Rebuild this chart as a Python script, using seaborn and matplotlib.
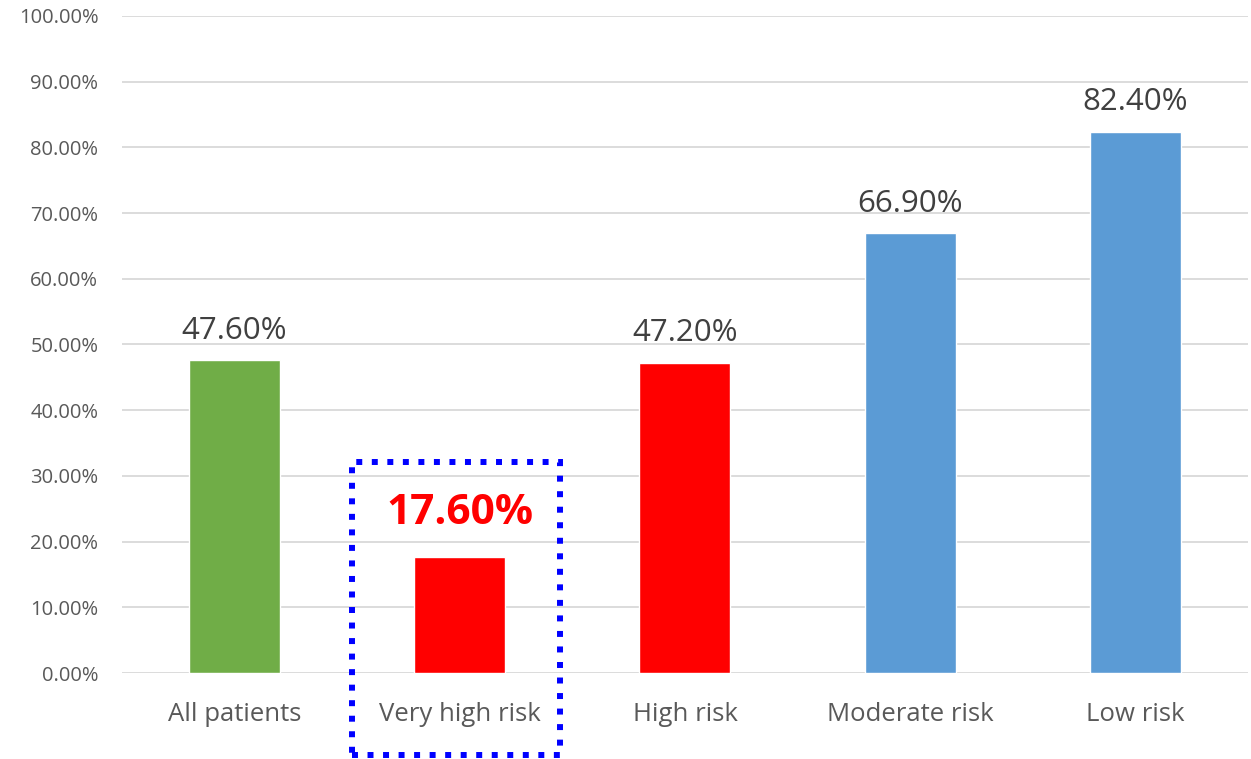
import pandas as pd
import matplotlib.pyplot as plt
import matplotlib.patches as mpatches
from matplotlib.ticker import FuncFormatter
import seaborn as sns

# Chart values
categories = ["All patients", "Very high risk", "High risk", "Moderate risk", "Low risk"]
values = [47.6, 17.6, 47.2, 66.9, 82.4]
bar_colors = ["#70AD47", "#FF0000", "#FF0000", "#5B9BD5", "#5B9BD5"]

df = pd.DataFrame({"Group": categories, "Rate": values})

sns.set_style("white")
plt.rcParams['font.family'] = ['Open Sans', 'DejaVu Sans']

fig = plt.figure(figsize=(12.51, 7.59), dpi=100)
ax = fig.add_axes([0.0975, 0.1133, 0.9001, 0.8657])

sns.barplot(data=df, x="Group", y="Rate", hue="Group", palette=bar_colors,
            width=0.404, saturation=1, legend=False, ax=ax, zorder=3)

ax.set_ylim(0, 100)
ax.set_xlim(-0.5, 4.5)
ax.set_yticks(range(0, 101, 10))
ax.yaxis.set_major_formatter(FuncFormatter(lambda v, p: f"{v:.2f}%"))
ax.grid(axis='y', color='#D9D9D9', lw=1.3, zorder=0)
ax.set_axisbelow(True)
for s in ax.spines.values():
    s.set_visible(False)
ax.set_xlabel("")
ax.set_ylabel("")
ax.tick_params(axis='y', length=0, pad=17, labelsize=14.5, labelcolor='#595959')
ax.tick_params(axis='x', length=0, pad=21, labelsize=18.5, labelcolor='#595959')

# value labels
for i, v in enumerate(values):
    if i == 1:
        ax.text(i, v + 3.6, f"{v:.2f}%", ha='center', va='bottom', fontsize=30.5,
                fontweight='bold', color='#FF0000')
    else:
        ax.text(i, v + 2.2, f"{v:.2f}%", ha='center', va='bottom', fontsize=22.5,
                color='#404040')

# dotted highlight box around the very high risk group
box = mpatches.Rectangle((0.521, -12.5), 0.924, 44.6, fill=False,
                         edgecolor='#0000FF', lw=4.3, linestyle=(0, (1, 1.6)),
                         clip_on=False, zorder=5)
ax.add_patch(box)

plt.savefig("out.png", dpi=100)
